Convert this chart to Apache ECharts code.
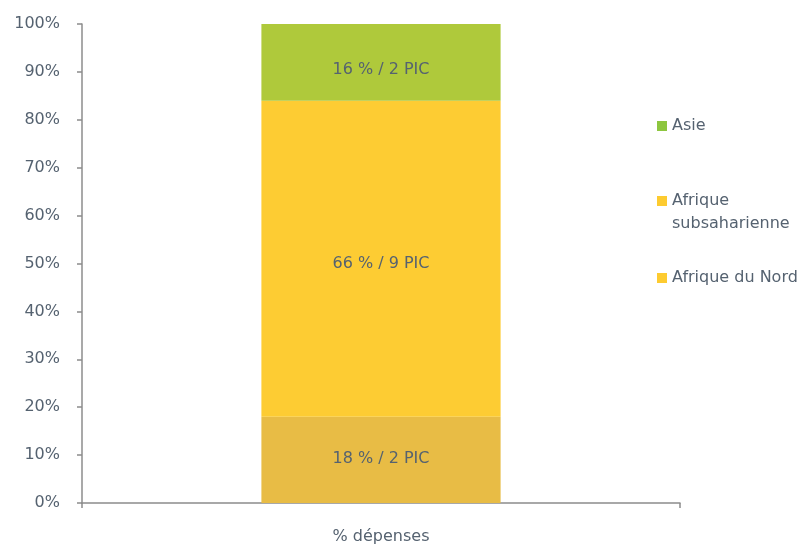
<!DOCTYPE html>
<html>
<head>
<meta charset="utf-8">
<style>
  html, body { margin: 0; padding: 0; background: #fff; }
  #chart { width: 802px; height: 548px; }
</style>
<script src="https://cdn.jsdelivr.net/npm/echarts@6/dist/echarts.min.js"></script>
</head>
<body>
<div id="chart"></div>
<script>
// Share of spending by region, with number of PIC per region
const categories = ['% dépenses'];
const regions = ['Afrique du Nord', 'Afrique subsaharienne', 'Asie'];
const shares = [18, 66, 16];
const picCounts = [2, 9, 2];
const barColors = ['#E8BC45', '#FDCC33', '#AFC93B'];
const legendColors = ['#FDCB30', '#FDCB30', '#8DC63F'];
// legend text: first line next to the marker, optional second line below it
const legendLabels = [['Afrique du Nord'], ['Afrique', 'subsaharienne'], ['Asie']];

const textColor = '#556270';
const font = 'DejaVu Sans';

// small vertical nudges of the in-bar labels
const labelShift = [[0, -1], [0, 5], [0, 8]];

const series = regions.map((name, i) => ({
  name: name,
  type: 'bar',
  stack: 'total',
  barWidth: '40%',
  data: [shares[i]],
  itemStyle: { color: barColors[i] },
  label: {
    show: true,
    position: 'inside',
    offset: labelShift[i],
    formatter: () => shares[i] + ' % / ' + picCounts[i] + ' PIC',
    color: textColor,
    fontFamily: font,
    fontSize: 16
  }
}));

// one legend block per region, stacked top-to-bottom: Asie, subsaharienne, Nord
const legendTops = { 'Asie': 113, 'Afrique subsaharienne': 188, 'Afrique du Nord': 265 };
const lineHeight = 23;
const legends = regions.map((name, i) => ({
  data: [{ name: name, icon: 'rect', itemStyle: { color: legendColors[i] } }],
  left: 652,
  top: legendTops[name],
  orient: 'vertical',
  itemWidth: 10,
  itemHeight: 10,
  selectedMode: false,
  formatter: () => legendLabels[i][0],
  textStyle: { color: textColor, fontFamily: font, fontSize: 16 }
}));

// continuation lines of wrapped legend labels
const graphics = [];
regions.forEach((name, i) => {
  legendLabels[i].slice(1).forEach((line, k) => {
    graphics.push({
      type: 'text',
      left: 672,
      top: legendTops[name] + 5 + (k + 1) * lineHeight,
      style: { text: line, fill: textColor, font: '16px "' + font + '"' }
    });
  });
});

const chart = echarts.init(document.getElementById('chart'), null, { renderer: 'canvas' });
chart.setOption({
  animation: false,
  grid: { left: 82, right: 122, top: 24, bottom: 45, containLabel: false },
  legend: legends,
  graphic: graphics,
  xAxis: {
    type: 'category',
    data: categories,
    axisLine: { show: true, lineStyle: { color: '#8C8C8C', width: 1.5 } },
    axisTick: { show: true, length: 5, lineStyle: { color: '#8C8C8C', width: 1.5 } },
    axisLabel: { color: textColor, fontFamily: font, fontSize: 16, margin: 26 }
  },
  yAxis: {
    type: 'value',
    min: 0,
    max: 100,
    interval: 10,
    axisLine: { show: true, lineStyle: { color: '#8C8C8C', width: 1.5 } },
    axisTick: { show: true, length: 5, lineStyle: { color: '#8C8C8C', width: 1.5 } },
    splitLine: { show: false },
    axisLabel: { formatter: '{value}%', color: textColor, fontFamily: font, fontSize: 16, margin: 22 }
  },
  series: series
});
</script>
</body>
</html>
